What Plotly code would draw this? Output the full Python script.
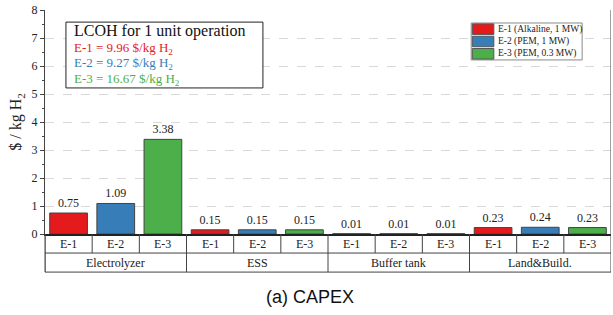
import plotly.graph_objects as go

groups = ["Electrolyzer", "ESS", "Buffer tank", "Land&Build."]
series_names = ["E-1 (Alkaline, 1 MW)", "E-2 (PEM, 1 MW)", "E-3 (PEM, 0.3 MW)"]
short_names = ["E-1", "E-2", "E-3"]
e1_values = [0.75, 0.15, 0.01, 0.23]
e2_values = [1.09, 0.15, 0.01, 0.24]
e3_values = [3.38, 0.15, 0.01, 0.23]
colors = ["#e41a1c", "#377eb8", "#4daf4a"]
lcoh_values = ["9.96", "9.27", "16.67"]
y_ticks = [0, 1, 2, 3, 4, 5, 6, 7, 8]

SERIF = "Liberation Serif, Times New Roman, serif"
n_s = len(series_names)
n_slots = len(groups) * n_s

fig = go.Figure()
for s, (name, vals, col) in enumerate(zip(series_names, [e1_values, e2_values, e3_values], colors)):
    xs = [g * n_s + s for g in range(len(groups))]
    fig.add_trace(go.Bar(
        x=xs, y=vals, name=name, width=0.8, showlegend=False,
        marker=dict(color=col, line=dict(color="#444444", width=1)),
        text=[f"{v:.2f}" for v in vals], textposition="outside",
        textfont=dict(family=SERIF, size=12, color="#222222"),
        cliponaxis=False,
    ))

shapes = []
row1 = -0.085
row2 = -0.17
line = dict(color="#444444", width=1)
for k in range(n_slots + 1):
    xb = k - 0.5
    y0 = row2 if k % n_s == 0 else row1
    shapes.append(dict(type="line", xref="x", yref="paper", x0=xb, x1=xb, y0=y0, y1=0, line=line))
for yy in [row1, row2]:
    shapes.append(dict(type="line", xref="x", yref="paper", x0=-0.5, x1=n_slots - 0.5, y0=yy, y1=yy, line=line))
shapes.append(dict(type="line", xref="x", yref="paper", x0=n_slots - 0.5, x1=n_slots - 0.5, y0=0, y1=1, line=line))
shapes.append(dict(type="line", xref="paper", yref="paper", x0=0, x1=0, y0=row2, y1=0, line=line))
# LCOH box
shapes.append(dict(type="rect", xref="paper", yref="paper", x0=0.037, x1=0.385, y0=0.652, y1=0.946,
                   line=dict(color="#222222", width=1), fillcolor="white", layer="above"))

annotations = []
for g, gname in enumerate(groups):
    for s, sn in enumerate(short_names):
        annotations.append(dict(x=g * n_s + s, y=row1 / 2, xref="x", yref="paper", text=sn, showarrow=False,
                                font=dict(family=SERIF, size=12, color="#222222"), yanchor="middle"))
    annotations.append(dict(x=g * n_s + 1, y=(row1 + row2) / 2, xref="x", yref="paper", text=gname,
                            showarrow=False, font=dict(family=SERIF, size=12, color="#222222"), yanchor="middle"))

annotations.append(dict(x=0.048, y=0.906, xref="paper", yref="paper", xanchor="left", yanchor="middle",
                        text="LCOH for 1 unit operation", showarrow=False,
                        font=dict(family=SERIF, size=16, color="#111111")))
for i, (sn, v, col) in enumerate(zip(short_names, lcoh_values, colors)):
    annotations.append(dict(x=0.048, y=0.830 - i * 0.071, xref="paper", yref="paper", xanchor="left",
                            yanchor="middle", text=f"{sn} = {v} $/kg H<sub>2</sub>", showarrow=False,
                            font=dict(family=SERIF, size=13, color=col)))

# custom legend (compact, wide swatches)
lg_x0, lg_x1, lg_top, lg_bot = 0.753, 0.949, 0.942, 0.777
shapes.append(dict(type="rect", xref="paper", yref="paper", x0=lg_x0, x1=lg_x1, y0=lg_bot, y1=lg_top,
                   line=dict(color="#888888", width=1), fillcolor="white", layer="above"))
item_h = (lg_top - lg_bot) / n_s
for i, (name, col) in enumerate(zip(series_names, colors)):
    yt = lg_top - i * item_h - 0.004
    yb = yt - item_h + 0.008
    shapes.append(dict(type="rect", xref="paper", yref="paper", x0=lg_x0 + 0.002, x1=lg_x0 + 0.040,
                       y0=yb, y1=yt, line=dict(color="#555555", width=1), fillcolor=col, layer="above"))
    annotations.append(dict(x=lg_x0 + 0.044, y=(yt + yb) / 2, xref="paper", yref="paper", xanchor="left",
                            yanchor="middle", text=name, showarrow=False,
                            font=dict(family=SERIF, size=9.5, color="#222222")))

annotations.append(dict(x=0.468, y=-0.281, xref="paper", yref="paper", text="(a) CAPEX", showarrow=False,
                        font=dict(family="Liberation Sans, Arial, sans-serif", size=18, color="#111111"),
                        yanchor="middle"))

fig.update_layout(
    width=613, height=315,
    margin=dict(l=45, r=2, t=10, b=81, autoexpand=False),
    plot_bgcolor="white", paper_bgcolor="white",
    barmode="overlay",
    showlegend=False,
    shapes=shapes,
    annotations=annotations,
    xaxis=dict(range=[-0.5, n_slots - 0.5], showticklabels=False, ticks="", showgrid=False,
               showline=True, linecolor="#222222", linewidth=1.5, zeroline=False, automargin=False),
    yaxis=dict(range=[0, 8], tickvals=y_ticks, ticks="outside", ticklen=4, tickcolor="#444444",
               showline=True, linecolor="#444444", linewidth=1, automargin=False,
               showgrid=True, gridcolor="#d9d9d9", griddash="dash", gridwidth=1, zeroline=False,
               tickfont=dict(family=SERIF, size=12, color="#222222"),
               minor=dict(ticks="outside", ticklen=2, dtick=0.5, tickcolor="#444444", showgrid=False),
               title=dict(text="$ / kg H<sub>2</sub>", font=dict(family=SERIF, size=16, color="#222222"),
                          standoff=5)),
)

fig.write_html(
    "out.html",
    config={"displayModeBar": False},
    post_script="document.body.style.margin='0';document.body.style.overflow='hidden';",
)
